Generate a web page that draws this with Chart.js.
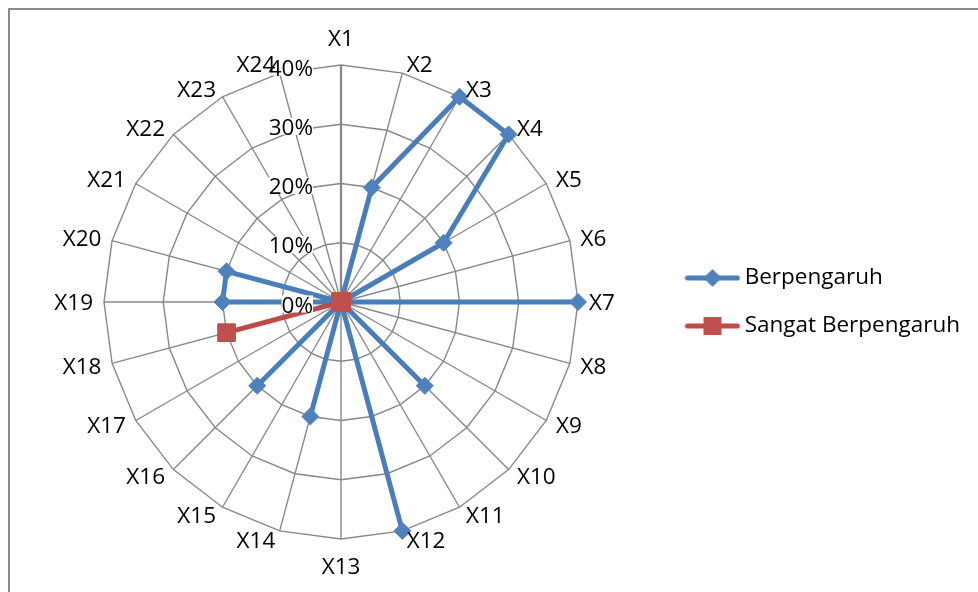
<!DOCTYPE html>
<html>
<head>
<meta charset="utf-8">
<script src="https://cdn.jsdelivr.net/npm/chart.js@4/dist/chart.umd.min.js"></script>
<style>
  html, body { margin: 0; padding: 0; background: #fff; }
  #frame { position: absolute; left: 8px; top: 8px; width: 1000px; height: 1000px;
           border-top: 2px solid #8a8a8a; border-left: 2px solid #8a8a8a; }
  #wrap { position: absolute; left: 0; top: 0; width: 978px; height: 592px; }
</style>
</head>
<body>
<div id="frame"></div>
<div id="wrap"><canvas id="radar"></canvas></div>
<script>
const categories = ['X1','X2','X3','X4','X5','X6','X7','X8','X9','X10','X11','X12',
                    'X13','X14','X15','X16','X17','X18','X19','X20','X21','X22','X23','X24'];
const berpengaruh =       [0,20,40,40,20,0,40,0,0,20,0,40,0,20,0,20,0,0,20,20,0,0,0,0];
const sangatBerpengaruh = [0,0,0,0,0,0,0,0,0,0,0,0,0,0,0,0,0,20,0,0,0,0,0,0];
const tickValues = [0, 10, 20, 30, 40];
const tickLabels = ['0%', '10%', '20%', '30%', '40%'];

const blue = '#4A7EBB', blueFill = '#4F81BD';
const red = '#BE4B48', redFill = '#C0504D';
const font = '"Open Sans", Lato, sans-serif';
const fontSize = 22.5;
const capHalf = fontSize * 0.714 / 2;

// line + marker picture for the legend
function legendIcon(color, fill, shape) {
    const c = document.createElement('canvas');
    c.width = 56; c.height = 22;
    const g = c.getContext('2d');
    g.strokeStyle = color; g.lineWidth = 5; g.lineCap = 'round';
    g.beginPath(); g.moveTo(3, 11); g.lineTo(53, 11); g.stroke();
    g.fillStyle = fill;
    if (shape === 'diamond') {
        g.beginPath(); g.moveTo(28, 2); g.lineTo(37, 11); g.lineTo(28, 20); g.lineTo(19, 11); g.closePath(); g.fill();
    } else {
        g.fillRect(19, 2, 18, 18);
    }
    return c;
}
const icons = [legendIcon(blue, blueFill, 'diamond'), legendIcon(red, redFill, 'square')];

// % labels left of the X1 spoke, on a small white patch
const tickLabelPlugin = {
    id: 'tickLabels',
    afterDatasetsDraw(chart) {
        const s = chart.scales.r;
        const ctx = chart.ctx;
        ctx.save();
        ctx.font = fontSize + 'px ' + font;
        ctx.textAlign = 'right';
        ctx.textBaseline = 'alphabetic';
        tickValues.forEach((v, i) => {
            const y = s.yCenter - s.getDistanceFromCenterForValue(v) + 2.5;
            const x = s.xCenter - 28;
            const w = ctx.measureText(tickLabels[i]).width;
            ctx.fillStyle = '#fff';
            ctx.fillRect(x - w, y - capHalf - 1, w, capHalf * 2 + 1);
            ctx.fillStyle = '#000';
            ctx.fillText(tickLabels[i], x, y + capHalf);
        });
        ctx.restore();
    }
};

// category labels set beside each outer vertex, the way Excel does it
const categoryLabelPlugin = {
    id: 'categoryLabels',
    afterDatasetsDraw(chart) {
        const s = chart.scales.r;
        const ctx = chart.ctx;
        const n = categories.length;
        ctx.save();
        ctx.font = fontSize + 'px ' + font;
        ctx.fillStyle = '#000';
        ctx.textBaseline = 'alphabetic';
        categories.forEach((name, i) => {
            const p = s.getPointPosition(i, s.drawingArea);
            const a = i * 2 * Math.PI / n;
            const sin = Math.sin(a), cos = Math.cos(a);
            let x = p.x, cy;
            if (Math.abs(sin) < 1e-6) {
                ctx.textAlign = 'center';
                cy = p.y + (cos > 0 ? -27.5 : 27);
            } else {
                const gap = 2 + 9 * Math.abs(sin);
                ctx.textAlign = sin > 0 ? 'left' : 'right';
                x += sin > 0 ? gap : -gap;
                cy = p.y - 9 * cos;
            }
            ctx.fillText(name, x, cy + capHalf);
        });
        ctx.restore();
    }
};

new Chart(document.getElementById('radar'), {
    type: 'radar',
    data: {
        labels: categories,
        datasets: [{
            label: 'Berpengaruh',
            data: berpengaruh,
            borderColor: blue,
            backgroundColor: blueFill,
            pointBackgroundColor: blueFill,
            pointBorderColor: blueFill,
            borderWidth: 5,
            borderJoinStyle: 'round',
            pointStyle: 'rectRot',
            pointRadius: 8.5,
            pointBorderWidth: 1,
            fill: false,
            order: 1
        }, {
            label: 'Sangat Berpengaruh',
            data: sangatBerpengaruh,
            borderColor: red,
            backgroundColor: redFill,
            pointBackgroundColor: redFill,
            pointBorderColor: redFill,
            borderWidth: 5,
            borderJoinStyle: 'round',
            pointStyle: 'rect',
            pointRadius: 12.5,
            pointBorderWidth: 1,
            fill: false,
            order: 0
        }]
    },
    options: {
        responsive: true,
        maintainAspectRatio: false,
        animation: false,
        layout: { padding: { left: 18, right: 8, top: 65, bottom: 53 } },
        scales: {
            r: {
                min: 0,
                max: 40,
                ticks: { display: false, stepSize: 10 },
                grid: { color: '#888888', lineWidth: 1.4 },
                angleLines: {
                    color: '#888888',
                    lineWidth: c => c.index === 0 ? 2.3 : 1.4
                },
                pointLabels: { display: false }
            }
        },
        plugins: {
            tooltip: { enabled: false },
            legend: {
                position: 'right',
                labels: {
                    color: '#000',
                    font: { family: font, size: fontSize },
                    padding: 25.5,
                    usePointStyle: true,
                    pointStyleWidth: 42,
                    generateLabels(chart) {
                        return chart.data.datasets.map((ds, i) => ({
                            text: ds.label,
                            datasetIndex: i,
                            pointStyle: icons[i],
                            fillStyle: ds.backgroundColor,
                            strokeStyle: ds.borderColor,
                            lineWidth: 0,
                            hidden: false,
                            fontColor: '#000'
                        }));
                    }
                }
            }
        }
    },
    plugins: [tickLabelPlugin, categoryLabelPlugin]
});
</script>
</body>
</html>
